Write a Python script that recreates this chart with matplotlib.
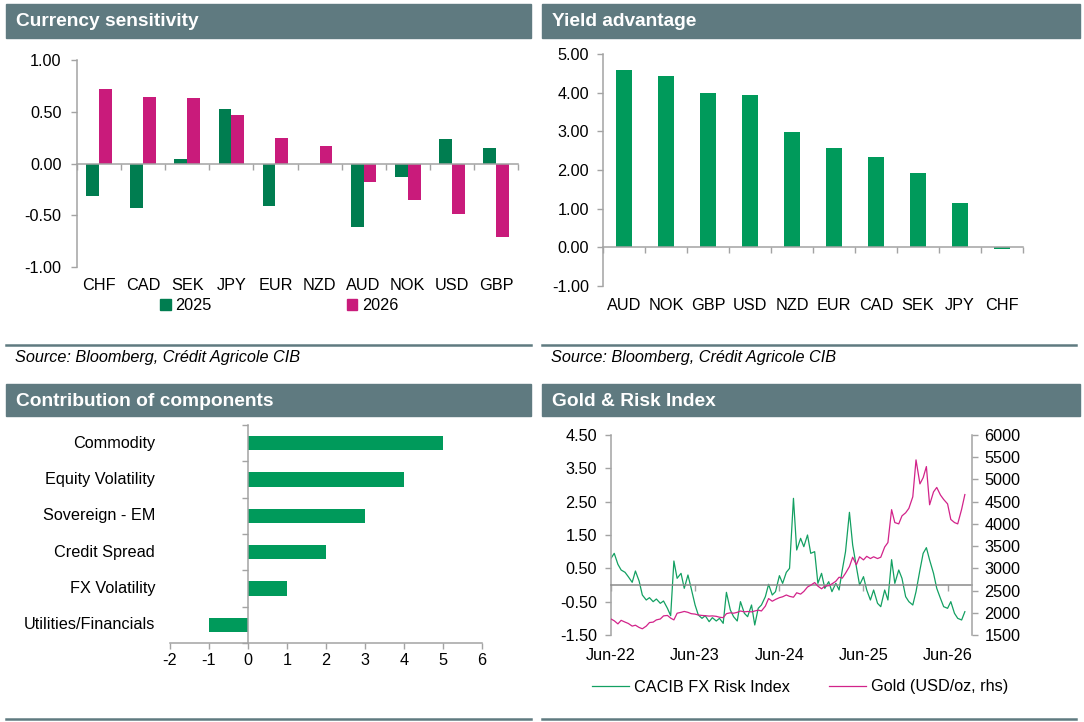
import numpy as np
import pandas as pd
import matplotlib
matplotlib.use('Agg')
import matplotlib.pyplot as plt
import matplotlib.transforms as mtransforms
from matplotlib.patches import Patch, Rectangle
from matplotlib.lines import Line2D

# ---- data ----
sens_ccy = ['CHF', 'CAD', 'SEK', 'JPY', 'EUR', 'NZD', 'AUD', 'NOK', 'USD', 'GBP']
sens_2025 = [-0.31, -0.43, 0.04, 0.53, -0.41, 0.00, -0.61, -0.13, 0.24, 0.15]
sens_2026 = [0.72, 0.64, 0.63, 0.47, 0.25, 0.17, -0.18, -0.35, -0.49, -0.71]

yield_ccy = ['AUD', 'NOK', 'GBP', 'USD', 'NZD', 'EUR', 'CAD', 'SEK', 'JPY', 'CHF']
yield_adv = [4.58, 4.43, 4.00, 3.93, 2.98, 2.58, 2.34, 1.93, 1.15, -0.04]

components = ['Commodity', 'Equity Volatility', 'Sovereign - EM', 'Credit Spread',
              'FX Volatility', 'Utilities/Financials']
contrib = [5, 4, 3, 2, 1, -1]

# semi-monthly readings, Jun-22 onwards
risk_index = [
    0.80, 0.95, 0.62, 0.45, 0.38, 0.25, 0.08, 0.42, 0.12, -0.30,
    -0.45, -0.38, -0.50, -0.42, -0.55, -0.48, -0.70, -0.92, 0.72, 0.20,
    0.35, -0.10, 0.30, -0.10, -0.60, -0.90, -1.00, -0.92, -1.10, -0.98,
    -1.08, -1.00, -1.15, -0.22, -0.75, -0.95, -1.08, -0.50, -0.85, -0.95,
    -0.60, -1.20, -0.70, -0.60, -0.35, 0.02, -0.30, -0.20, 0.28, 0.05,
    0.38, 0.50, 2.60, 1.05, 1.40, 1.15, 1.50, 0.95, 1.00, 0.05,
    0.35, -0.10, 0.10, -0.20, 0.05, -0.15, 0.45, 1.00, 2.18, 1.20,
    0.55, 0.00, 0.25, -0.15, -0.45, -0.15, -0.55, -0.65, -0.15, -0.45,
    0.76, 0.05, 0.45, 0.20, -0.35, -0.50, -0.60, -0.20, 0.45, 0.95,
    1.12, 0.75, 0.35, -0.10, -0.40, -0.65, -0.70, -0.50, -0.85, -1.00,
    -1.05, -0.80,
]
gold = [
    1860, 1820, 1750, 1830, 1790, 1760, 1700, 1720, 1670, 1640,
    1700, 1780, 1790, 1840, 1860, 1930, 1940, 1880, 1840, 1990,
    2010, 2030, 2010, 1980, 1970, 1950, 1940, 1935, 1925, 1930,
    1920, 1900, 1890, 1980, 2000, 1990, 2010, 2040, 2020, 2030,
    2020, 2040, 2060, 2040, 2150, 2320, 2260, 2300, 2340, 2360,
    2400, 2370, 2350, 2450, 2420, 2480, 2580, 2620, 2680, 2600,
    2540, 2600, 2610, 2650, 2710, 2800, 2780, 2890, 3040, 3250,
    3080, 3260, 3190, 3270, 3220, 3260, 3220, 3250, 3480, 3580,
    4320, 4030, 4000, 4180, 4250, 4350, 4610, 5440, 4900, 5040,
    5290, 4430, 4720, 4820, 4650, 4550, 4450, 4100, 4030, 4000,
    4330, 4660,
]
dates = pd.date_range('2022-06-01', periods=len(risk_index), freq='SMS')
date_ticks = pd.to_datetime(['2022-06-01', '2023-06-01', '2024-06-01', '2025-06-01', '2026-06-01'])
date_labels = ['Jun-22', 'Jun-23', 'Jun-24', 'Jun-25', 'Jun-26']

# ---- style ----
W, H = 1084, 722
FS = 11.7
plt.rcParams['font.family'] = ['Liberation Sans', 'DejaVu Sans']
plt.rcParams['font.size'] = FS
plt.rcParams['axes.unicode_minus'] = False

HEADER = '#5f7a80'
GREY = '#a3a3a3'
DARK_GREEN = '#007d50'
GREEN = '#009a5b'
LINE_GREEN = '#13a062'
MAGENTA = '#c91b7b'
GOLD_PINK = '#d2238a'


def rect(x0, y0, x1, y1):
    return [x0 / W, 1 - y1 / H, (x1 - x0) / W, (y1 - y0) / H]


def fy(y):
    return 1 - y / H


def header(fig, x0, x1, y0, y1, title):
    fig.patches.append(Rectangle((x0 / W, fy(y1)), (x1 - x0) / W, (y1 - y0) / H,
                                 transform=fig.transFigure, color=HEADER, zorder=0))
    fig.text((x0 + 10) / W, fy((y0 + y1) / 2 + 1), title, color='white',
             fontsize=13.8, fontweight='bold', va='center', ha='left')


def separator(fig, x0, x1, y):
    fig.lines.append(Line2D([x0 / W, x1 / W], [fy(y), fy(y)], transform=fig.transFigure,
                            color=HEADER, lw=1.8))


def base_style(ax):
    for s in ['top', 'right']:
        ax.spines[s].set_visible(False)
    for s in ['left', 'bottom']:
        ax.spines[s].set_color(GREY)
        ax.spines[s].set_linewidth(1.1)
    ax.tick_params(colors=GREY, labelcolor='black', length=4, width=1.0, labelsize=FS)
    ax.patch.set_alpha(0)


fig = plt.figure(figsize=(W / 100, H / 100), dpi=100)

# ---- panel 1: currency sensitivity ----
header(fig, 6, 531, 4, 38, 'Currency sensitivity')
ax1 = fig.add_axes(rect(77, 60, 518, 267))
base_style(ax1)
x = np.arange(len(sens_ccy))
ax1.bar(x - 0.145, sens_2025, width=0.29, color=DARK_GREEN, label='2025')
ax1.bar(x + 0.145, sens_2026, width=0.29, color=MAGENTA, label='2026')
ax1.set_xlim(-0.5, len(sens_ccy) - 0.5)
ax1.set_ylim(-1, 1)
ax1.set_yticks(np.arange(-1, 1.01, 0.5))
ax1.yaxis.set_major_formatter(matplotlib.ticker.FormatStrFormatter('%.2f'))
ax1.tick_params(axis='y', pad=7)
ax1.spines['bottom'].set_position(('data', 0))
ax1.set_xticks(np.arange(-0.5, len(sens_ccy), 1))
ax1.set_xticklabels([])
tr1 = mtransforms.blended_transform_factory(ax1.transData, fig.transFigure)
for i, c in enumerate(sens_ccy):
    ax1.text(i, fy(285), c, transform=tr1, ha='center', va='center', fontsize=FS)
fig.legend(handles=[Patch(color=DARK_GREEN, label='2025'), Patch(color=MAGENTA, label='2026')],
           loc='center left', bbox_to_anchor=(160 / W, fy(306)), ncol=2, frameon=False,
           handlelength=0.65, handleheight=0.65, handletextpad=0.3, columnspacing=8.3,
           borderaxespad=0, borderpad=0, fontsize=FS)
separator(fig, 6, 531, 345)
fig.text(15 / W, fy(358), 'Source: Bloomberg, Crédit Agricole CIB', style='italic',
         fontsize=FS, va='center', ha='left')

# ---- panel 2: yield advantage ----
header(fig, 542, 1080, 4, 38, 'Yield advantage')
ax2 = fig.add_axes(rect(603, 54, 1023, 286))
base_style(ax2)
x = np.arange(len(yield_ccy))
ax2.bar(x, yield_adv, width=0.38, color=GREEN)
ax2.set_xlim(-0.5, len(yield_ccy) - 0.5)
ax2.set_ylim(-1, 5)
ax2.set_yticks(np.arange(-1, 5.01, 1))
ax2.yaxis.set_major_formatter(matplotlib.ticker.FormatStrFormatter('%.2f'))
ax2.tick_params(axis='y', pad=6)
ax2.spines['bottom'].set_position(('data', 0))
ax2.set_xticks(np.arange(-0.5, len(yield_ccy), 1))
ax2.set_xticklabels([])
tr2 = mtransforms.blended_transform_factory(ax2.transData, fig.transFigure)
for i, c in enumerate(yield_ccy):
    ax2.text(i, fy(305), c, transform=tr2, ha='center', va='center', fontsize=FS)
separator(fig, 542, 1076, 345)
fig.text(551 / W, fy(358), 'Source: Bloomberg, Crédit Agricole CIB', style='italic',
         fontsize=FS, va='center', ha='left')

# ---- panel 3: contribution of components ----
header(fig, 6, 531, 384, 416, 'Contribution of components')
ax3 = fig.add_axes(rect(170, 425, 482, 643))
base_style(ax3)
y = np.arange(len(components))
ax3.barh(y, contrib, height=0.4, color=GREEN)
ax3.set_xlim(-2, 6)
ax3.set_ylim(len(components) - 0.5, -0.5)
ax3.set_xticks(np.arange(-2, 7, 1))
ax3.spines['left'].set_position(('data', 0))
ax3.set_yticks(np.arange(-0.5, len(components), 1))
ax3.set_yticklabels([])
tr3 = mtransforms.blended_transform_factory(fig.transFigure, ax3.transData)
for i, c in enumerate(components):
    ax3.text(155 / W, i, c, transform=tr3, ha='right', va='center', fontsize=FS)
separator(fig, 6, 531, 719)

# ---- panel 4: gold & risk index ----
header(fig, 542, 1080, 384, 416, 'Gold & Risk Index')
ax4 = fig.add_axes(rect(611, 435, 972, 635))
base_style(ax4)
ax4r = ax4.twinx()
for s in ['top', 'left', 'bottom']:
    ax4r.spines[s].set_visible(False)
ax4r.spines['right'].set_color(GREY)
ax4r.spines['right'].set_linewidth(1.1)
ax4r.tick_params(colors=GREY, labelcolor='black', length=4, width=1.0, labelsize=FS, pad=5)

ax4.plot(dates, risk_index, color=LINE_GREEN, lw=0.9, label='CACIB FX Risk Index')
ax4r.plot(dates, gold, color=GOLD_PINK, lw=0.9, label='Gold (USD/oz, rhs)')
ax4.set_ylim(-1.5, 4.5)
ax4.set_yticks(np.arange(-1.5, 4.51, 1))
ax4.yaxis.set_major_formatter(matplotlib.ticker.FormatStrFormatter('%.2f'))
ax4.tick_params(axis='y', pad=6)
ax4r.set_ylim(1500, 6000)
ax4r.set_yticks(np.arange(1500, 6001, 500))
ax4.set_xlim(pd.Timestamp('2022-06-01'), pd.Timestamp('2026-09-15'))
ax4.spines['bottom'].set_position(('data', 0))
ax4.spines['bottom'].set_color('#8a8a8a')
ax4.set_xticks(date_ticks)
ax4.set_xticklabels([])
tr4 = mtransforms.blended_transform_factory(ax4.transData, fig.transFigure)
for d, lab in zip(date_ticks, date_labels):
    ax4.text(d, fy(655), lab, transform=tr4, ha='center', va='center', fontsize=FS)
h1, = ax4.get_lines()
h2, = ax4r.get_lines()
fig.legend(handles=[h1, h2], loc='center left', bbox_to_anchor=(592 / W, fy(687)), ncol=2,
           frameon=False, handlelength=2.25, handletextpad=0.35, columnspacing=2.4,
           borderaxespad=0, borderpad=0, fontsize=FS)
separator(fig, 542, 1076, 719)

fig.savefig('out.png', dpi=100)
